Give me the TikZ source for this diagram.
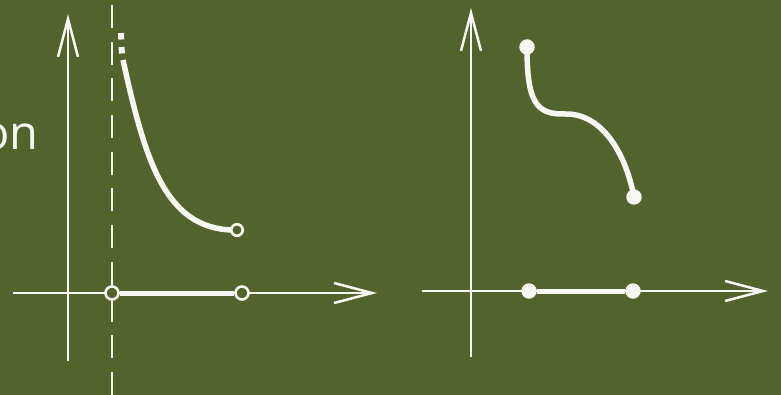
\documentclass[tikz,border=0pt]{standalone}
\usepackage{fontspec}
\setmainfont{Open Sans}
\usetikzlibrary{arrows.meta}
\definecolor{bg}{RGB}{82,99,44}
\definecolor{chalk}{RGB}{246,246,242}
\tikzset{
  axis/.style={draw=chalk, line width=2.5pt, -{Straight Barb[length=38pt,width=20pt,line width=2.5pt]}},
  thickline/.style={draw=chalk, line width=5.5pt, line cap=round},
  seg/.style={draw=chalk, line width=5pt},
  opendot/.style={circle, draw=chalk, fill=bg, line width=2.6pt, minimum size=13pt, inner sep=0pt},
  filldot/.style={circle, fill=chalk, minimum size=15.5pt, inner sep=0pt},
  asym/.style={draw=chalk, line width=2.6pt, dash pattern=on 23pt off 13.7pt},
}
\begin{document}
\begin{tikzpicture}[x=1pt,y=-1pt]
\fill[bg] (0,0) rectangle (781,395);
\useasboundingbox (0,0) rectangle (781,395);

% label fragment
\node[anchor=base east, inner sep=0pt, text=chalk, font=\fontsize{47}{50}\selectfont] (lbl) at (39,150) {on};

% ---- left graph ----
\coordinate (ly0) at (68,361);
\coordinate (ly1) at (68,14);
\coordinate (lx0) at (13,293);
\coordinate (lx1) at (377,293);
\coordinate (as0) at (112,5);
\coordinate (as1) at (112,395);
\draw[axis] (ly0) -- (ly1);
\draw[axis] (lx0) -- (lx1);
\draw[asym] (as0) -- (as1);
\coordinate (c0) at (123,60);
\coordinate (c1) at (232,230);
\draw[thickline, line cap=butt] (c0) .. controls (145,160) and (165,228) .. (c1);
\coordinate (d0) at (121,33);
\coordinate (d1) at (122,57);
\draw[draw=chalk, line width=6pt, dash pattern=on 6.5pt off 7.5pt] (d0) -- (d1);
\node[opendot, minimum size=11.5pt] (le) at (237,230) {};
\node[opendot] (la) at (112,293) {};
\node[opendot] (lb) at (242,293) {};
\draw[seg] (la.east) -- (lb.west);

% ---- right graph ----
\coordinate (ry0) at (471,357);
\coordinate (ry1) at (471,8);
\coordinate (rx0) at (422,291);
\coordinate (rx1) at (768,291);
\draw[axis] (ry0) -- (ry1);
\draw[axis] (rx0) -- (rx1);
\node[filldot] (rs) at (527,47) {};
\node[filldot] (re) at (634,197) {};
\draw[thickline] (rs.center) .. controls (527,100) and (535,115) .. (565,114)
  .. controls (600,113) and (625,150) .. (re.center);
\node[filldot] (ra) at (529,291) {};
\node[filldot] (rb) at (633,291) {};
\draw[seg] (ra) -- (rb);
\end{tikzpicture}
\end{document}
